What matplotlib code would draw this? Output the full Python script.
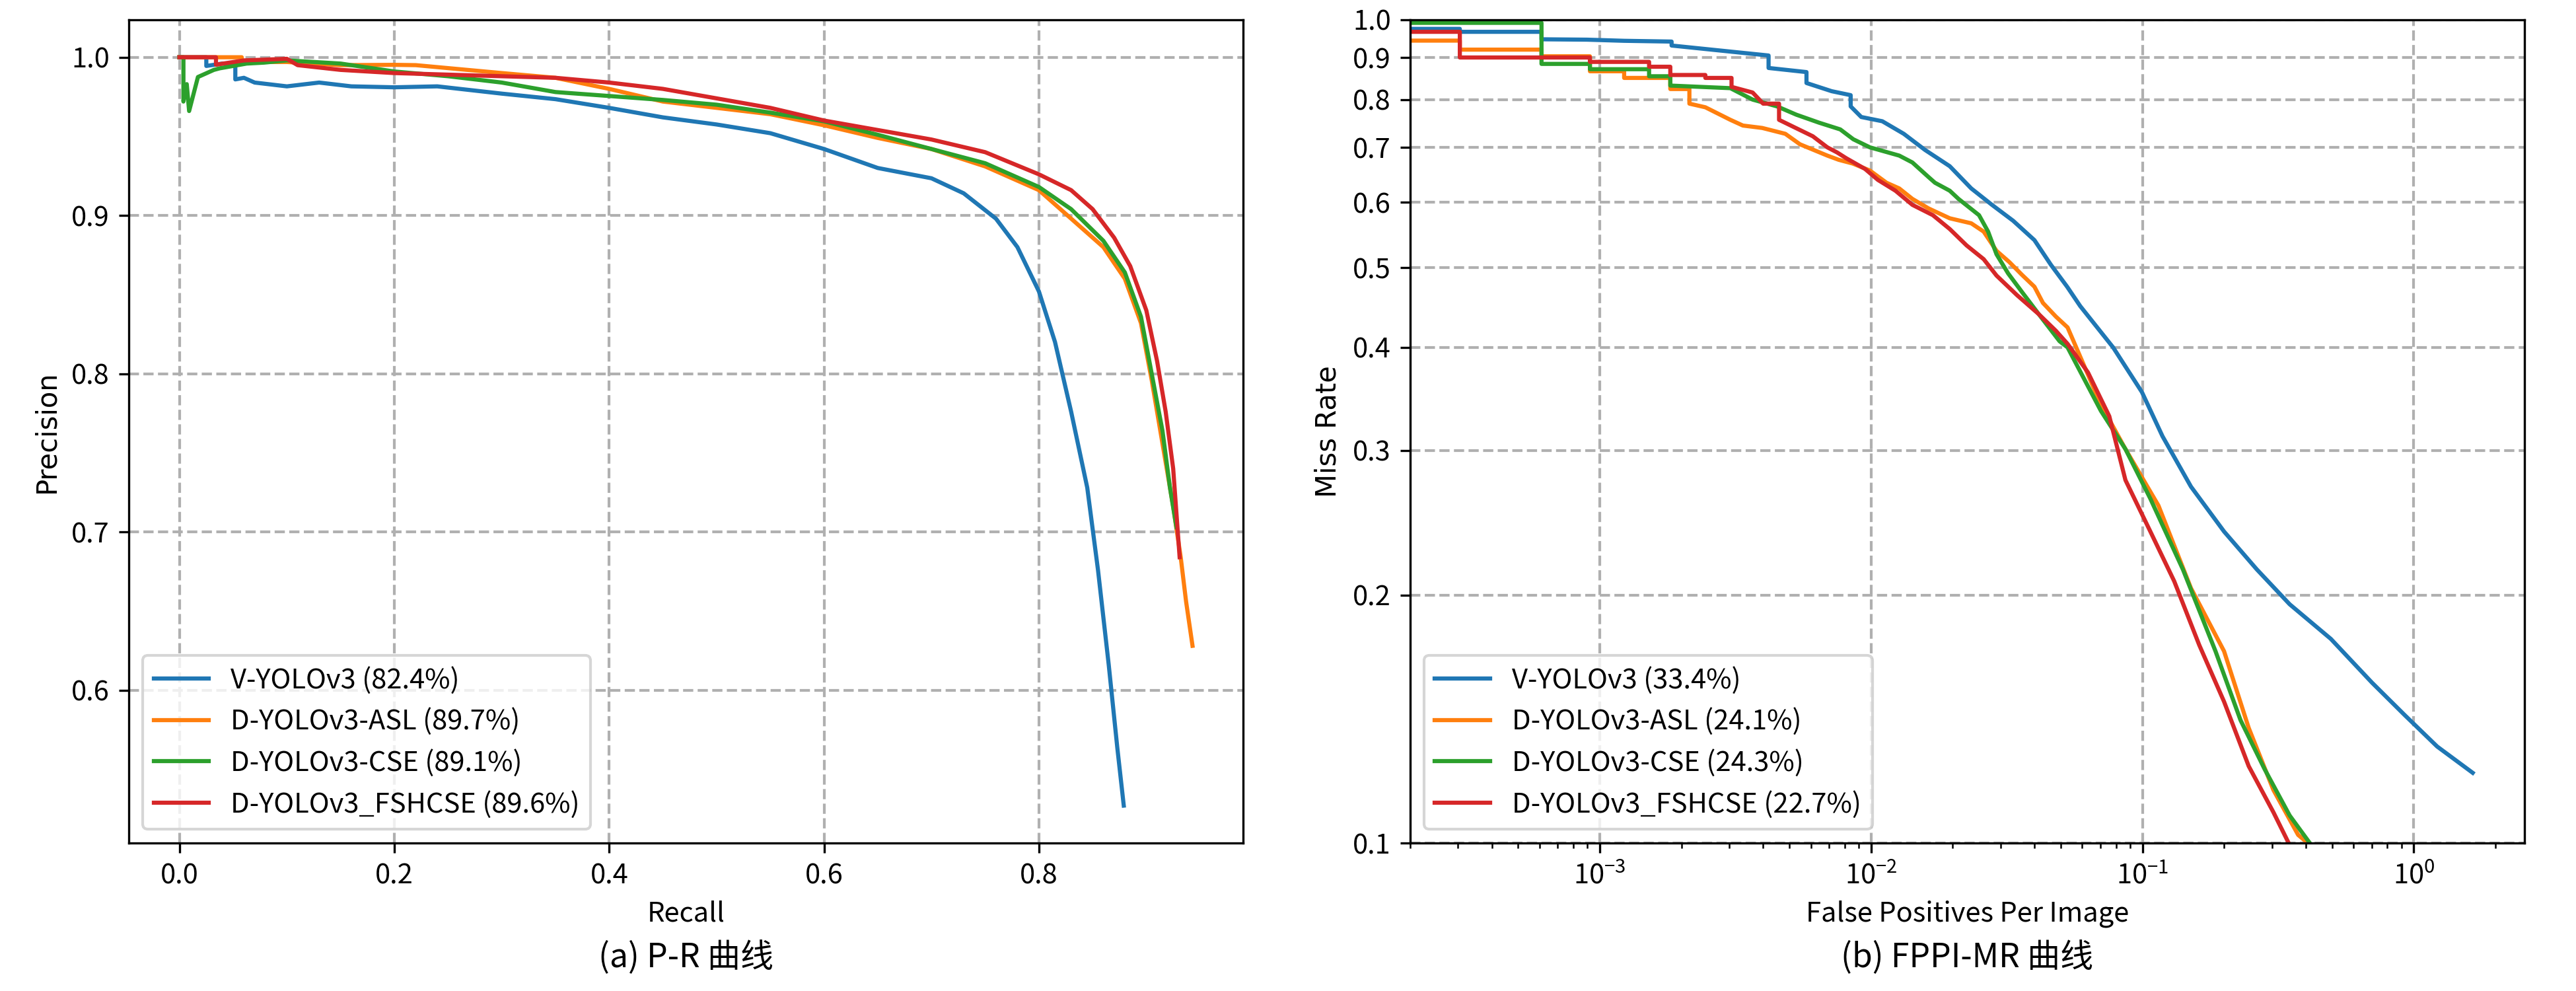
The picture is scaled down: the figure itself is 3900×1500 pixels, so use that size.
import numpy as np
import matplotlib.pyplot as plt
from matplotlib.ticker import FixedLocator, FixedFormatter, NullLocator

plt.rcParams['font.family'] = ['Noto Sans CJK SC', 'DejaVu Sans']
plt.rcParams['axes.unicode_minus'] = False

labels_pr = ['V-YOLOv3 (82.4%)', 'D-YOLOv3-ASL (89.7%)',
             'D-YOLOv3-CSE (89.1%)', 'D-YOLOv3_FSHCSE (89.6%)']
labels_mr = ['V-YOLOv3 (33.4%)', 'D-YOLOv3-ASL (24.1%)',
             'D-YOLOv3-CSE (24.3%)', 'D-YOLOv3_FSHCSE (22.7%)']
colors = ['#1f77b4', '#ff7f0e', '#2ca02c', '#d62728']

# ---- P-R curves ----
v_recall = [0, 0.025, 0.025, 0.04, 0.052, 0.052, 0.06, 0.07, 0.1, 0.13, 0.16, 0.2, 0.24,
            0.3, 0.35, 0.4, 0.45, 0.5, 0.55, 0.6, 0.65, 0.7, 0.73, 0.76, 0.78,
            0.8, 0.815, 0.83, 0.845, 0.855, 0.865, 0.873, 0.879]
v_precision = [1.0, 1.0, 0.9945, 0.996, 0.996, 0.986, 0.987, 0.984, 0.9816, 0.984, 0.9816,
               0.981, 0.9816, 0.977, 0.9735, 0.968, 0.962, 0.9575, 0.952, 0.942,
               0.930, 0.9235, 0.914, 0.898, 0.880, 0.852, 0.82, 0.776, 0.728,
               0.676, 0.616, 0.5635, 0.527]

asl_recall = [0, 0.058, 0.058, 0.1, 0.15, 0.2, 0.22, 0.3, 0.35, 0.4, 0.45, 0.5, 0.55,
              0.6, 0.65, 0.7, 0.75, 0.8, 0.83, 0.86, 0.88, 0.895, 0.905, 0.915,
              0.925, 0.932, 0.937, 0.943]
asl_precision = [1.0, 1.0, 0.997, 0.997, 0.995, 0.9952, 0.995, 0.990, 0.987, 0.980,
                 0.972, 0.968, 0.964, 0.957, 0.949, 0.942, 0.931, 0.916, 0.898,
                 0.880, 0.860, 0.832, 0.796, 0.756, 0.716, 0.684, 0.656, 0.628]

cse_recall = [0, 0.0037, 0.0037, 0.0068, 0.009, 0.0172, 0.032, 0.0375, 0.0625, 0.0787,
              0.1, 0.15, 0.2, 0.25, 0.3, 0.35, 0.4, 0.45, 0.5, 0.55, 0.6, 0.65,
              0.7, 0.75, 0.8, 0.83, 0.86, 0.88, 0.895, 0.905, 0.915, 0.922, 0.928]
cse_precision = [1.0, 1.0, 0.972, 0.983, 0.966, 0.9875, 0.992, 0.993, 0.996, 0.9966,
                 0.998, 0.996, 0.991, 0.988, 0.984, 0.978, 0.9755, 0.973, 0.970,
                 0.965, 0.9595, 0.951, 0.942, 0.933, 0.918, 0.904, 0.884, 0.864,
                 0.836, 0.800, 0.764, 0.728, 0.703]

fsh_recall = [0, 0.034, 0.034, 0.06, 0.1, 0.11, 0.15, 0.2, 0.3, 0.35, 0.4, 0.45, 0.5,
              0.55, 0.6, 0.65, 0.7, 0.75, 0.8, 0.83, 0.85, 0.87, 0.885, 0.9, 0.91,
              0.918, 0.925, 0.931]
fsh_precision = [1.0, 1.0, 0.9953, 0.998, 0.999, 0.995, 0.992, 0.990, 0.988, 0.987,
                 0.984, 0.980, 0.974, 0.968, 0.960, 0.954, 0.948, 0.940, 0.926,
                 0.916, 0.904, 0.886, 0.868, 0.840, 0.808, 0.776, 0.740, 0.684]

# ---- FPPI - miss rate curves ----
v_fppi = [2e-4, 3.05e-4, 3.05e-4, 6.1e-4, 6.1e-4, 8.98e-4, 1.23e-3, 1.84e-3, 1.84e-3,
          3.03e-3, 4.19e-3, 4.19e-3, 5.78e-3, 5.78e-3, 7.16e-3, 8.41e-3, 8.41e-3,
          9.2e-3, 1.1e-2, 1.32e-2, 1.58e-2, 1.95e-2, 2.34e-2, 2.79e-2, 3.34e-2,
          4.0e-2, 4.6e-2, 5.28e-2, 5.9e-2, 7.8e-2, 0.0996, 0.1186, 0.151, 0.200,
          0.264, 0.349, 0.495, 0.702, 0.927, 1.22, 1.65]
v_mr = [0.975, 0.975, 0.967, 0.967, 0.947, 0.946, 0.943, 0.941, 0.9306,
        0.915, 0.905, 0.874, 0.864, 0.838, 0.819, 0.810, 0.785,
        0.762, 0.753, 0.727, 0.695, 0.664, 0.624, 0.596, 0.570,
        0.540, 0.504, 0.474, 0.449, 0.400, 0.353, 0.312, 0.271, 0.239,
        0.215, 0.195, 0.177, 0.1566, 0.143, 0.131, 0.1217]

asl_fppi = [2e-4, 3.05e-4, 3.05e-4, 6.1e-4, 6.1e-4, 9.2e-4, 9.2e-4, 1.23e-3, 1.23e-3,
            1.82e-3, 1.82e-3, 2.14e-3, 2.14e-3, 2.45e-3, 3.03e-3, 3.37e-3, 3.97e-3,
            4.83e-3, 5.47e-3, 6.9e-3, 7.6e-3, 8.56e-3, 9.9e-3, 1.14e-2, 1.27e-2,
            1.42e-2, 1.63e-2, 1.95e-2, 2.34e-2, 2.6e-2, 2.9e-2, 3.23e-2, 3.6e-2,
            4.0e-2, 4.3e-2, 4.8e-2, 5.3e-2, 7.03e-2, 8.66e-2, 0.1146, 0.151,
            0.200, 0.2465, 0.304, 0.375, 0.407]
asl_mr = [0.9435, 0.9435, 0.920, 0.920, 0.903, 0.903, 0.866, 0.866, 0.850,
          0.850, 0.824, 0.824, 0.791, 0.783, 0.756, 0.744, 0.739,
          0.727, 0.706, 0.684, 0.676, 0.669, 0.656, 0.634, 0.624,
          0.606, 0.590, 0.574, 0.566, 0.553, 0.524, 0.508, 0.490,
          0.474, 0.453, 0.436, 0.423, 0.341, 0.301, 0.257, 0.204,
          0.171, 0.138, 0.116, 0.1023, 0.1]

cse_fppi = [2e-4, 6.1e-4, 6.1e-4, 9.2e-4, 9.2e-4, 1.52e-3, 1.52e-3, 1.82e-3, 1.82e-3,
            3.03e-3, 3.66e-3, 4.5e-3, 5.3e-3, 6.43e-3, 7.7e-3, 8.6e-3, 9.9e-3,
            1.27e-2, 1.42e-2, 1.63e-2, 1.72e-2, 1.95e-2, 2.1e-2, 2.5e-2, 2.7e-2,
            2.9e-2, 3.2e-2, 3.6e-2, 4.15e-2, 4.95e-2, 5.3e-2, 7.03e-2, 8.66e-2,
            0.107, 0.141, 0.186, 0.230, 0.282, 0.349, 0.414]
cse_mr = [0.9916, 0.9916, 0.884, 0.884, 0.871, 0.871, 0.854, 0.854, 0.832,
          0.826, 0.800, 0.785, 0.767, 0.750, 0.736, 0.716, 0.700,
          0.684, 0.671, 0.644, 0.634, 0.620, 0.606, 0.579, 0.553,
          0.519, 0.492, 0.467, 0.439, 0.407, 0.400, 0.335, 0.301,
          0.262, 0.215, 0.171, 0.141, 0.123, 0.108, 0.1]

fsh_fppi = [2e-4, 3.05e-4, 3.05e-4, 9.2e-4, 9.2e-4, 1.52e-3, 1.52e-3, 1.82e-3, 1.82e-3,
            2.45e-3, 2.45e-3, 3.06e-3, 3.06e-3, 3.66e-3, 4.0e-3, 4.58e-3, 4.58e-3,
            6.1e-3, 6.9e-3, 7.5e-3, 8.1e-3, 9.5e-3, 1.06e-2, 1.23e-2, 1.42e-2,
            1.69e-2, 1.95e-2, 2.25e-2, 2.6e-2, 2.9e-2, 3.45e-2, 4.15e-2, 4.8e-2,
            5.3e-2, 6.3e-2, 7.55e-2, 8.66e-2, 0.107, 0.131, 0.162, 0.200,
            0.2465, 0.304, 0.346]
fsh_mr = [0.967, 0.967, 0.900, 0.900, 0.889, 0.889, 0.877, 0.877, 0.857,
          0.857, 0.850, 0.850, 0.829, 0.816, 0.791, 0.791, 0.756,
          0.722, 0.700, 0.690, 0.679, 0.659, 0.639, 0.620, 0.596,
          0.579, 0.557, 0.532, 0.512, 0.489, 0.463, 0.439, 0.419,
          0.404, 0.373, 0.330, 0.276, 0.239, 0.208, 0.174, 0.1485,
          0.124, 0.109, 0.1]

pr_data = [(v_recall, v_precision), (asl_recall, asl_precision),
           (cse_recall, cse_precision), (fsh_recall, fsh_precision)]
mr_data = [(v_fppi, v_mr), (asl_fppi, asl_mr), (cse_fppi, cse_mr), (fsh_fppi, fsh_mr)]

fig = plt.figure(figsize=(13, 5), dpi=300)
ax1 = fig.add_axes([0.050, 0.1493, 0.4326, 0.8307])
ax2 = fig.add_axes([0.5474, 0.1493, 0.4326, 0.8307])

for (x, y), lab, c in zip(pr_data, labels_pr, colors):
    ax1.plot(x, y, color=c, lw=1.5, label=lab)
ax1.set_xlabel('Recall', fontsize=10)
ax1.set_ylabel('Precision', fontsize=10, family='DejaVu Sans')
ax1.set_xticks([0.0, 0.2, 0.4, 0.6, 0.8])
ax1.set_yticks([0.6, 0.7, 0.8, 0.9, 1.0])
ax1.tick_params(labelsize=10)
ax1.grid(True, linestyle='--', color='#b0b0b0', lw=1.0)
ax1.legend(loc='lower left', fontsize=10)

for (x, y), lab, c in zip(mr_data, labels_mr, colors):
    ax2.plot(x, y, color=c, lw=1.5, label=lab)
ax2.set_xscale('log')
ax2.set_yscale('log')
ax2.set_xlim(2e-4, 2.56)
ax2.set_ylim(0.1, 1.0)
yt = [0.1, 0.2, 0.3, 0.4, 0.5, 0.6, 0.7, 0.8, 0.9, 1.0]
ax2.yaxis.set_major_locator(FixedLocator(yt))
ax2.yaxis.set_major_formatter(FixedFormatter(['%.1f' % v for v in yt]))
ax2.yaxis.set_minor_locator(NullLocator())
ax2.set_xlabel('False Positives Per Image', fontsize=10)
ax2.set_ylabel('Miss Rate', fontsize=10, family='DejaVu Sans')
ax2.tick_params(labelsize=10)
ax2.grid(True, which='major', linestyle='--', color='#b0b0b0', lw=1.0)
ax2.legend(loc='lower left', fontsize=10)

fig.text(0.05 + 0.4326 / 2, 0.033, '(a) P-R 曲线', ha='center', va='center', fontsize=12)
fig.text(0.5474 + 0.4326 / 2, 0.033, '(b) FPPI-MR 曲线', ha='center', va='center', fontsize=12)

fig.savefig('out.png', dpi=300)
